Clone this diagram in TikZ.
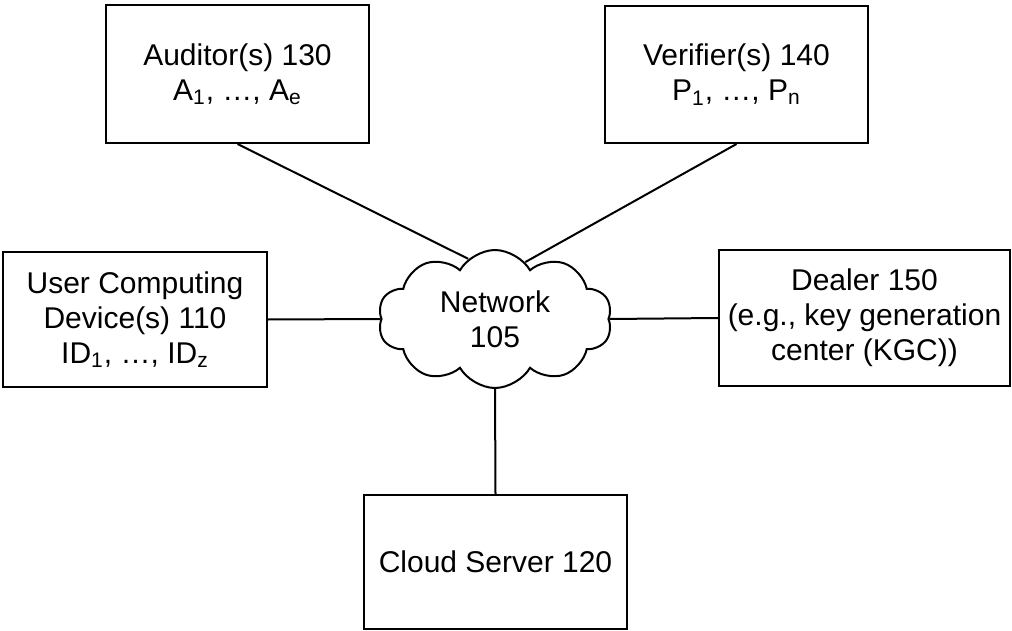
\documentclass[tikz,border=0pt]{standalone}
\usepackage{fontspec}
\setmainfont{Liberation Sans}
\usetikzlibrary{shapes.symbols}

\begin{document}
\begin{tikzpicture}
  [x=0.5pt,y=-0.5pt,line width=1pt,
   every node/.style={draw,align=center,font=\fontsize{15}{17.5}\selectfont},
   box/.style={rectangle,inner sep=0pt}]
  \useasboundingbox (0,0) rectangle (1012,631);

  \node[box,minimum width=131.5pt,minimum height=69pt] (naud) at (237.5,74) {Auditor(s) 130\\A\textsubscript{1}, \dots, A\textsubscript{e}};
  \node[box,minimum width=131.5pt,minimum height=68.5pt] (nver) at (736.5,74.5) {Verifier(s) 140\\P\textsubscript{1}, \dots, P\textsubscript{n}};
  \node[box,minimum width=132pt,minimum height=67.5pt] (nuser) at (135,319.5) {User Computing\\Device(s) 110\\ID\textsubscript{1}, \dots, ID\textsubscript{z}};
  \node[box,minimum width=145.5pt,minimum height=68pt] (ndeal) at (864.5,318) {Dealer 150\\(e.g., key generation\\center (KGC))};
  \node[box,minimum width=131.5pt,minimum height=67pt] (ncs) at (495.5,562) {Cloud Server 120};
  \node[cloud,cloud puffs=10,cloud puff arc=120,aspect=1.7,inner sep=0pt,
        minimum width=117pt,minimum height=69pt] (nnet) at (495,319) {Network\\105};

  \foreach \from/\to in {naud.south/nnet.114,nver.south/nnet.62,nuser.east/nnet.180,ndeal.west/nnet.0,ncs.north/nnet.270}
    \draw (\from) -- (\to);

\end{tikzpicture}
\end{document}
